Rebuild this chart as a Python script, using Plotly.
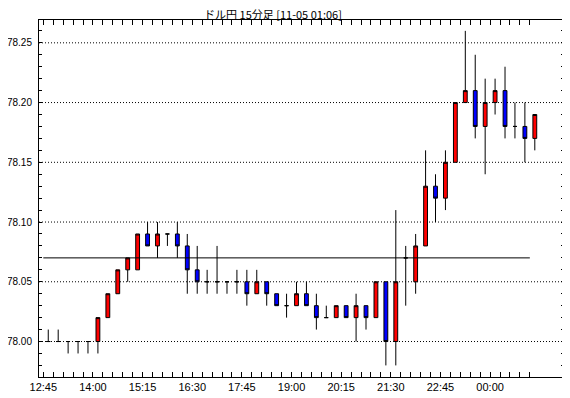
import plotly.graph_objects as go

# ---- data (USD/JPY 15-minute candles, 12:45 -> 01:00) ----
opens  = [78.00, 78.00, 78.00, 78.00, 78.00, 78.00, 78.02, 78.04, 78.06, 78.06,
          78.09, 78.08, 78.09, 78.09, 78.08, 78.06, 78.05, 78.05, 78.05, 78.05,
          78.05, 78.04, 78.05, 78.04, 78.03, 78.03, 78.04, 78.03, 78.02, 78.02,
          78.03, 78.02, 78.03, 78.02, 78.05, 78.00, 78.07, 78.05, 78.08, 78.13,
          78.12, 78.15, 78.20, 78.21, 78.18, 78.20, 78.21, 78.18, 78.18, 78.17]
highs  = [78.01, 78.01, 78.00, 78.00, 78.00, 78.02, 78.04, 78.06, 78.07, 78.09,
          78.10, 78.10, 78.09, 78.10, 78.09, 78.08, 78.06, 78.08, 78.05, 78.06,
          78.06, 78.06, 78.05, 78.04, 78.04, 78.05, 78.05, 78.04, 78.03, 78.03,
          78.03, 78.04, 78.03, 78.05, 78.05, 78.11, 78.08, 78.09, 78.16, 78.14,
          78.16, 78.20, 78.26, 78.24, 78.22, 78.22, 78.23, 78.20, 78.20, 78.19]
lows   = [78.00, 78.00, 77.99, 77.99, 77.99, 77.99, 78.02, 78.04, 78.05, 78.06,
          78.08, 78.07, 78.08, 78.07, 78.04, 78.04, 78.04, 78.04, 78.04, 78.04,
          78.03, 78.04, 78.03, 78.03, 78.02, 78.03, 78.03, 78.01, 78.02, 78.02,
          78.02, 78.00, 78.01, 78.02, 77.98, 77.98, 78.03, 78.04, 78.08, 78.10,
          78.11, 78.15, 78.20, 78.17, 78.14, 78.19, 78.17, 78.17, 78.15, 78.16]
closes = [78.00, 78.00, 78.00, 78.00, 78.00, 78.02, 78.04, 78.06, 78.07, 78.09,
          78.08, 78.09, 78.09, 78.08, 78.06, 78.05, 78.05, 78.05, 78.05, 78.05,
          78.04, 78.05, 78.04, 78.03, 78.03, 78.04, 78.03, 78.02, 78.02, 78.03,
          78.02, 78.03, 78.02, 78.05, 78.00, 78.05, 78.07, 78.08, 78.13, 78.12,
          78.15, 78.20, 78.21, 78.18, 78.20, 78.21, 78.18, 78.18, 78.17, 78.19]
ref_level = 78.07

time_labels = ["12:45", "14:00", "15:15", "16:30", "17:45",
               "19:00", "20:15", "21:30", "22:45", "00:00"]
label_every = 5
y_labels = ["78.00", "78.05", "78.10", "78.15", "78.20", "78.25"]
y_minor_step = 0.01
title_text = "ドル円 15分足 [11-05 01:06]"

n = len(opens)
x_centers = [i + 0.5 for i in range(n)]
tick_vals = list(range(n))
tick_text = [time_labels[i // label_every] if i % label_every == 0 else "" for i in range(n)]

y_range = [77.9703, 78.2691]
y_tick_vals = [round(77.97 + y_minor_step * k, 2) for k in range(30)]
y_tick_text = [f"{v:.2f}" if f"{v:.2f}" in y_labels else "" for v in y_tick_vals]

fig = go.Figure()
# dotted horizontal grid at the labelled levels
for lab in y_labels:
    fig.add_shape(type="line", xref="paper", x0=0, x1=1, yref="y",
                  y0=float(lab), y1=float(lab), layer="below",
                  line=dict(color="#000000", width=1, dash="1px,2px"))

fig.add_trace(go.Candlestick(
    x=x_centers, open=opens, high=highs, low=lows, close=closes,
    increasing=dict(fillcolor="#FF0000", line=dict(color="#000000", width=1)),
    decreasing=dict(fillcolor="#0000FF", line=dict(color="#000000", width=1)),
    whiskerwidth=0, showlegend=False, hoverinfo="skip",
))
fig.add_trace(go.Scatter(
    x=[tick_vals[0], tick_vals[-1]], y=[ref_level, ref_level], mode="lines",
    line=dict(color="#000000", width=1), showlegend=False, hoverinfo="skip",
))

# the page body has an 8px margin, so the figure is sized/offset to compensate
W, H = 562, 390
font_latin = "Liberation Sans, Arial, sans-serif"
fig.update_layout(
    width=W, height=H,
    margin=dict(l=31, r=6, t=12, b=21, autoexpand=False),
    paper_bgcolor="#FFFFFF", plot_bgcolor="#FFFFFF",
    boxgap=0.45,
    title=dict(text=title_text, x=(273 - 39) / 525, xref="paper", xanchor="center",
               y=1 - 7.0 / H, yref="container", yanchor="middle", automargin=False,
               font=dict(family="Noto Sans CJK JP, sans-serif", size=11, color="#000000")),
    font=dict(family=font_latin, size=11, color="#000000"),
    xaxis=dict(
        range=[-0.433, 52.44], rangeslider=dict(visible=False), automargin=False,
        tickmode="array", tickvals=tick_vals, ticktext=tick_text,
        ticks="inside", ticklen=5, tickcolor="#000000", tickwidth=1,
        showline=True, linecolor="#000000", linewidth=1, mirror="ticks",
        showgrid=False, zeroline=False,
        tickfont=dict(family=font_latin, size=11, color="#000000"),
    ),
    yaxis=dict(
        range=y_range, automargin=False,
        tickmode="array", tickvals=y_tick_vals, ticktext=y_tick_text,
        ticks="inside", ticklen=3, tickcolor="#000000", tickwidth=1,
        ticklabelstandoff=4,
        showline=True, linecolor="#000000", linewidth=1, mirror="ticks",
        showgrid=False, zeroline=False,
        tickfont=dict(family=font_latin, size=10, color="#000000"),
    ),
)

fig.write_html("out.html")
